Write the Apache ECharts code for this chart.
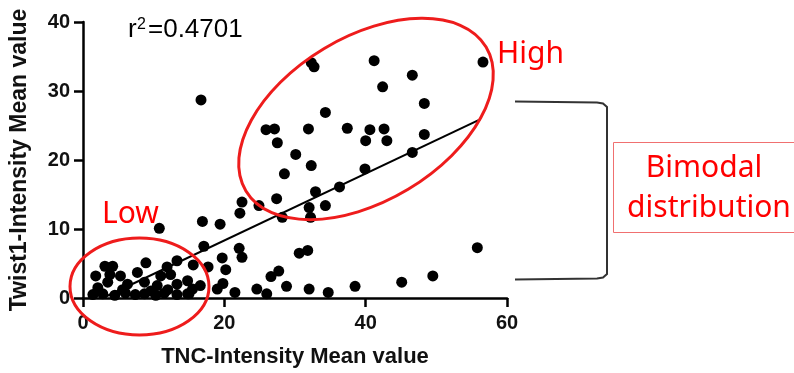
<!DOCTYPE html>
<html>
<head>
<meta charset="utf-8">
<script src="https://cdn.jsdelivr.net/npm/echarts@6/dist/echarts.min.js"></script>
<style>
  html, body { margin: 0; padding: 0; background: #fff; }
  #chart { width: 794px; height: 373px; }
</style>
</head>
<body>
<div id="chart"></div>
<script>
// TNC (x) and Twist1 (y) mean intensity per sample
var tncValues = [
  32.3, 32.7, 41.2, 56.6, 46.6, 42.4, 48.3, 34.3, 25.9, 27.1,
  31.9, 37.4, 40.6, 42.6, 40.0, 43.0, 48.3, 27.5, 30.1, 32.3,
  28.5, 46.6, 39.9, 36.3, 32.9, 27.4, 24.9, 32.0, 34.3, 28.2,
  32.2, 22.5, 22.2, 16.7, 16.9, 19.4, 10.8, 17.1, 22.1, 22.5,
  19.7, 20.2, 17.7, 15.6, 30.6, 31.8, 55.8, 27.7, 26.6, 49.5,
  45.1, 24.6, 26.0, 28.8, 32.0, 34.7, 38.5, 21.5, 19.8, 19.0,
  16.6, 14.8, 15.0, 3.1, 4.2, 1.8, 3.8, 3.5, 5.3, 8.9,
  7.7, 11.9, 13.3, 11.0, 12.4, 6.3, 8.7, 1.4, 2.8, 4.5,
  6.0, 7.4, 8.7, 10.3, 11.5, 13.3, 14.8, 13.3, 10.5, 15.5,
  2.1, 5.6, 9.6, 12.0
];
var twistValues = [
  34.1, 33.5, 34.4, 34.2, 32.3, 30.6, 28.2, 26.9, 24.4, 24.5,
  24.5, 24.6, 24.4, 24.5, 22.8, 22.8, 23.7, 22.5, 20.8, 19.2,
  18.0, 21.1, 18.7, 16.1, 15.4, 14.4, 13.4, 13.1, 13.4, 11.7,
  11.7, 13.9, 12.3, 28.7, 11.1, 10.7, 10.1, 7.5, 7.2, 5.9,
  5.8, 4.1, 4.5, 4.8, 6.5, 6.9, 7.3, 3.9, 3.1, 3.2,
  2.3, 1.3, 0.6, 1.7, 1.3, 0.8, 1.7, 0.8, 2.1, 1.3,
  1.8, 2.5, 0.6, 4.6, 4.6, 3.2, 3.4, 2.3, 3.2, 5.1,
  3.7, 4.5, 5.4, 3.2, 3.4, 2.0, 2.3, 0.5, 0.6, 0.4,
  0.7, 0.5, 0.6, 0.4, 0.7, 0.5, 0.6, 2.0, 1.8, 1.3,
  1.5, 1.2, 1.0, 1.2
];
// linear fit end points
var fitX = [2.8, 56.2];
var fitY = [0.0, 25.9];

var xTicks = { min: 0, max: 60, interval: 20 };
var yTicks = { min: 0, max: 40, interval: 10 };

var points = tncValues.map(function (x, i) { return [x, twistValues[i]]; });
var fitLine = fitX.map(function (x, i) { return [x, fitY[i]]; });

var myChart = echarts.init(document.getElementById('chart'));
var axisFont = 'Liberation Sans, Arial, sans-serif';
var noteFont = 'Noto Sans, Open Sans, sans-serif';

var option = {
  animation: false,
  grid: { left: 80, right: 287, top: 22, bottom: 67, containLabel: false },
  xAxis: {
    type: 'value',
    min: xTicks.min, max: xTicks.max, interval: xTicks.interval,
    name: 'TNC-Intensity Mean value',
    nameLocation: 'middle',
    nameGap: 48,
    nameTextStyle: { fontFamily: axisFont, fontWeight: 'bold', fontSize: 22, color: '#111' },
    axisLine: { lineStyle: { color: '#000', width: 2.5 } },
    axisTick: { show: true, length: 9, lineStyle: { color: '#000', width: 2.5 } },
    axisLabel: { fontFamily: axisFont, fontWeight: 'bold', fontSize: 20, color: '#111', margin: 15 },
    splitLine: { show: false }
  },
  yAxis: {
    type: 'value',
    min: yTicks.min, max: yTicks.max, interval: yTicks.interval,
    name: 'Twist1-Intensity Mean value',
    nameLocation: 'middle',
    nameGap: 52,
    nameTextStyle: { fontFamily: axisFont, fontWeight: 'bold', fontSize: 23, color: '#111' },
    axisLine: { show: true, lineStyle: { color: '#000', width: 2.5 } },
    axisTick: { show: true, length: 9, lineStyle: { color: '#000', width: 2.5 } },
    axisLabel: { fontFamily: axisFont, fontWeight: 'bold', fontSize: 20, color: '#111', margin: 13 },
    splitLine: { show: false }
  },
  series: [
    {
      type: 'scatter',
      data: points,
      symbol: 'circle',
      symbolSize: 11,
      itemStyle: { color: '#000', opacity: 1 },
      z: 3
    },
    {
      type: 'line',
      data: fitLine,
      symbol: 'none',
      lineStyle: { color: '#000', width: 2 },
      z: 2
    }
  ],
  graphic: [
    // r squared note
    { type: 'text', x: 128, y: 30, style: { text: 'r', font: '26px ' + axisFont, fill: '#000', verticalAlign: 'middle' } },
    { type: 'text', x: 137, y: 25, style: { text: '2', font: '16px ' + axisFont, fill: '#000', verticalAlign: 'middle' } },
    { type: 'text', x: 148, y: 30, style: { text: '=0.4701', font: '26px ' + axisFont, fill: '#000', verticalAlign: 'middle' } },
    // low / high groups
    { type: 'ellipse', x: 139.5, y: 286.5, shape: { cx: 0, cy: 0, rx: 69.5, ry: 48.5 },
      style: { fill: 'none', stroke: '#ee1c1c', lineWidth: 3 }, z: 10 },
    { type: 'ellipse', x: 366, y: 119, rotation: 0.54, shape: { cx: 0, cy: 0, rx: 140, ry: 82 },
      style: { fill: 'none', stroke: '#ee1c1c', lineWidth: 3 }, z: 10 },
    { type: 'text', x: 102, y: 214, style: { text: 'Low', font: '30px ' + noteFont, fill: '#ff0000', verticalAlign: 'middle' } },
    { type: 'text', x: 497, y: 54, style: { text: 'High', font: '30px ' + noteFont, fill: '#ff0000', verticalAlign: 'middle' } },
    // bracket
    { type: 'polyline',
      shape: { points: [[515, 101.5], [597, 102.5], [603, 103.5], [607, 107], [607, 274], [603, 277.5], [597, 278.5], [515, 279.5]] },
      style: { fill: 'none', stroke: '#333', lineWidth: 2 } },
    // bimodal note box
    { type: 'rect', shape: { x: 613.5, y: 142.5, width: 190, height: 90 },
      style: { fill: '#fff', stroke: '#f07070', lineWidth: 1 } },
    { type: 'text', x: 704, y: 168, style: { text: 'Bimodal', font: '30px ' + noteFont, fill: '#ff0000', align: 'center', verticalAlign: 'middle' } },
    { type: 'text', x: 709, y: 208, style: { text: 'distribution', font: '30px ' + noteFont, fill: '#ff0000', align: 'center', verticalAlign: 'middle' } }
  ]
};

myChart.setOption(option);
</script>
</body>
</html>
